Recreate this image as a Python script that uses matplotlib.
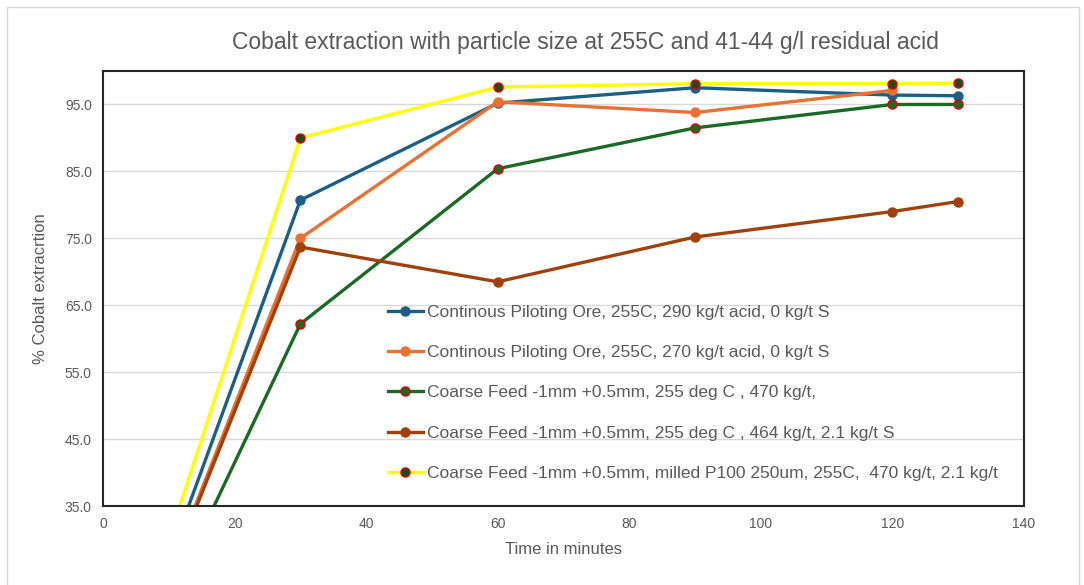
import matplotlib
matplotlib.use('Agg')
import matplotlib.pyplot as plt
from matplotlib.patches import Rectangle

matplotlib.rcParams['font.family'] = ['Liberation Sans', 'DejaVu Sans']

# data (all runs start at 0 min, 0 %)
t_full = [0, 30, 60, 90, 120, 130]
t_orange = [0, 30, 60, 90, 120]

blue_vals = [0, 80.7, 95.2, 97.5, 96.4, 96.3]
orange_vals = [0, 75.0, 95.4, 93.8, 97.1]
green_vals = [0, 62.2, 85.4, 91.5, 95.0, 95.0]
brown_vals = [0, 73.7, 68.5, 75.2, 79.0, 80.5]
yellow_vals = [0, 90.0, 97.6, 98.1, 98.1, 98.2]

labels = [
    'Continous Piloting Ore, 255C, 290 kg/t acid, 0 kg/t S',
    'Continous Piloting Ore, 255C, 270 kg/t acid, 0 kg/t S',
    'Coarse Feed -1mm +0.5mm, 255 deg C , 470 kg/t,',
    'Coarse Feed -1mm +0.5mm, 255 deg C , 464 kg/t, 2.1 kg/t S',
    'Coarse Feed -1mm +0.5mm, milled P100 250um, 255C,  470 kg/t, 2.1 kg/t',
]

y_ticks = [35, 45, 55, 65, 75, 85, 95]
x_ticks = [0, 20, 40, 60, 80, 100, 120, 140]

grey = '#595959'

fig = plt.figure(figsize=(10.84, 5.85), dpi=100)
fig.patches.append(Rectangle((7 / 1084, -0.01), 1072 / 1084, 1 - 7 / 585 + 0.01,
                             transform=fig.transFigure, fill=False,
                             edgecolor='#D9D9D9', lw=1))
ax = fig.add_axes([103 / 1084, 1 - 506 / 585, (1024 - 103) / 1084, (506 - 71) / 585])

lw = 2.4
ms = 6.5
ax.plot(t_full, blue_vals, color='#1B5E86', lw=lw, marker='o', ms=ms, label=labels[0])
ax.plot(t_orange, orange_vals, color='#E97132', lw=lw, marker='o', ms=ms, label=labels[1])
ax.plot(t_full, green_vals, color='#196B24', lw=lw, marker='o', ms=ms,
        mfc='#196B24', mec='#E00000', mew=1, label=labels[2])
ax.plot(t_full, brown_vals, color='#A0410D', lw=lw, marker='o', ms=ms, label=labels[3])
ax.plot(t_full, yellow_vals, color='#FFFF00', lw=lw, marker='o', ms=ms,
        mfc='#1A4D1A', mec='#E00000', mew=1, label=labels[4])

ax.set_xlim(0, 140)
ax.set_ylim(35, 100)
ax.set_xticks(x_ticks)
ax.set_yticks(y_ticks)
ax.set_yticklabels([f'{v:.1f}' for v in y_ticks])
ax.yaxis.grid(True, color='#D9D9D9', lw=1)
ax.set_axisbelow(True)
ax.tick_params(length=0, colors=grey, labelsize=10, pad=8)
for s in ax.spines.values():
    s.set_color('#262626')
    s.set_linewidth(1.5)

ax.set_xlabel('Time in minutes', color=grey, fontsize=12, labelpad=8)
ax.set_ylabel('% Cobalt extracrtion', color=grey, fontsize=12, labelpad=12)
fig.suptitle('Cobalt extraction with particle size at 255C and 41-44 g/l residual acid',
             color=grey, fontsize=16.5, x=585 / 1084, y=1 - 42 / 585, va='center')

ax.legend(loc='upper left', bbox_to_anchor=((388 - 103) / (1024 - 103), (506 - 305) / (506 - 71)),
          frameon=False, fontsize=12.5, labelcolor=grey, handlelength=2.0,
          handletextpad=0.25, labelspacing=1.44, borderpad=0, borderaxespad=0)

fig.savefig('out.png', dpi=100)
